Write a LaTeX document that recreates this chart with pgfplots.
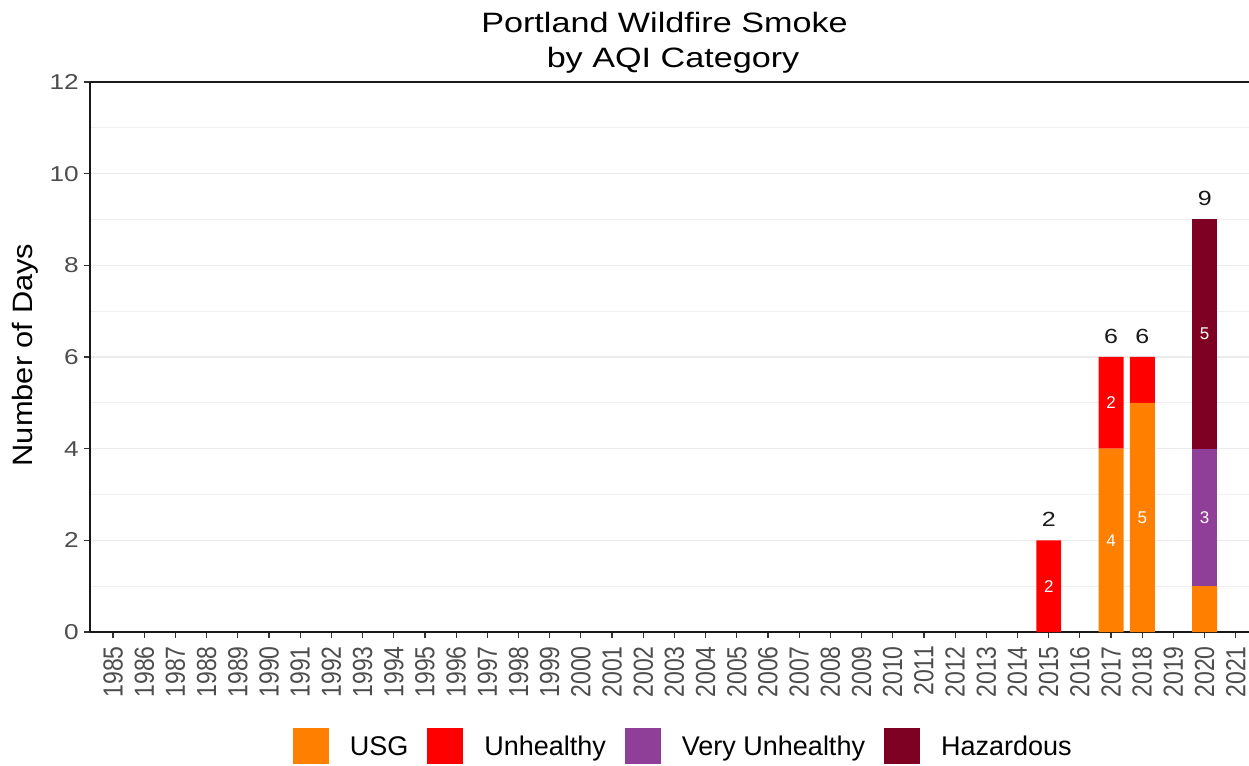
\documentclass[border=0pt]{standalone}
\usepackage{pgfplots}
\pgfplotsset{compat=1.18}
\usepackage{fontspec}
\usepackage{graphicx}
\setmainfont{Liberation Sans}
\newfontfamily\wfont[FakeStretch=1.22]{Liberation Sans}
\newfontfamily\yfont[FakeStretch=1.1]{Liberation Sans}
\definecolor{usg}{HTML}{FF7F00}
\definecolor{unh}{HTML}{FF0000}
\definecolor{vun}{HTML}{8F3F97}
\definecolor{haz}{HTML}{7E0023}
\definecolor{tickgray}{HTML}{4D4D4D}
\definecolor{gridgray}{HTML}{EBEBEB}
\pgfplotsset{
  common/.style={
    scale only axis, width=1159pt, height=550pt,
    at={(90pt,133pt)}, anchor=south west,
    xmin=1984.26, xmax=2021.42, ymin=0, ymax=12,
  }
}
\begin{document}
\begin{tikzpicture}
\useasboundingbox (0,0) rectangle (1249pt,765pt);
\begin{axis}[common,
  ybar stacked, bar width=0.8,
  axis x line*=box, axis y line*=left,
  axis line style={-, line width=1.6pt, color=black!90},
  xtick={1985,...,2021}, ytick={0,2,...,12}, minor ytick={1,3,...,11},
  xtick pos=left, ytick pos=left,
  tick align=outside, major tick length=6pt, minor tick length=0pt,
  tick style={line width=1.2pt, color=black!80},
  ymajorgrids, yminorgrids,
  major grid style={line width=1.6pt, color=gridgray},
  minor grid style={line width=1.1pt, color=gridgray!80},
  xticklabel={\scalebox{1}[1.2]{\pgfmathtruncatemacro\yr{round(\tick)}\yr}},
  xticklabel style={font=\fontsize{23}{23}\selectfont, color=tickgray, yshift=-8pt, rotate=90, anchor=east, inner sep=0pt},
  yticklabel={\pgfmathtruncatemacro\yv{round(\tick)}\yv},
  yticklabel style={font=\wfont\fontsize{21.5}{21.5}\selectfont, color=tickgray, anchor=east, inner sep=0pt, xshift=-5pt},
  legend columns=4,
  legend cell align=left,
  legend image code/.code={\fill[#1] (0pt,-18pt) rectangle (36pt,18pt);},
  legend style={at={(0.511,-0.208)}, anchor=center, draw=none, fill=none, inner sep=0pt,
    font=\fontsize{27}{27}\selectfont,
    nodes={inner sep=0pt},
    /tikz/every odd column/.style={column sep=21pt},
    /tikz/every even column/.style={column sep=19pt}},
]
\addplot[fill=usg, draw=none] coordinates {(2015,0) (2017,4) (2018,5) (2020,1)};
\addlegendentry{USG}
\addplot[fill=unh, draw=none] coordinates {(2015,2) (2017,2) (2018,1) (2020,0)};
\addlegendentry{Unhealthy}
\addplot[fill=vun, draw=none] coordinates {(2015,0) (2017,0) (2018,0) (2020,3)};
\addlegendentry{Very Unhealthy}
\addplot[fill=haz, draw=none] coordinates {(2015,0) (2017,0) (2018,0) (2020,5)};
\addlegendentry{Hazardous}
\end{axis}
\begin{axis}[common, hide axis, clip=false]
\addplot[only marks, mark=*, mark size=0pt, mark options={draw=none, fill=none},
  nodes near coords, point meta=explicit symbolic, nodes near coords align={center},
  every node near coord/.append style={font=\fontsize{17}{17}\selectfont, text=white, inner sep=0pt, anchor=center}]
  coordinates {(2015,1)[2] (2017,2)[4] (2017,5)[2] (2018,2.5)[5] (2020,2.5)[3] (2020,6.5)[5]};
\addplot[only marks, mark=*, mark size=0pt, mark options={draw=none, fill=none},
  nodes near coords, point meta=explicit symbolic, nodes near coords align={center},
  every node near coord/.append style={font=\wfont\fontsize{20.5}{20.5}\selectfont, text=black!90, inner sep=0pt, anchor=center, yshift=21pt}]
  coordinates {(2015,2)[2] (2017,6)[6] (2018,6)[6] (2020,9)[9]};
\end{axis}
\node[anchor=base, inner sep=0pt, font=\wfont\fontsize{28}{28}\selectfont] at (664.5pt,732pt) {Portland Wildfire Smoke};
\node[anchor=base, inner sep=0pt, font=\wfont\fontsize{28}{28}\selectfont] at (673pt,697pt) {by AQI Category};
\node[rotate=90, inner sep=0pt, font=\yfont\fontsize{28}{28}\selectfont] at (25pt,410pt) {Number of Days};
\end{tikzpicture}
\end{document}
